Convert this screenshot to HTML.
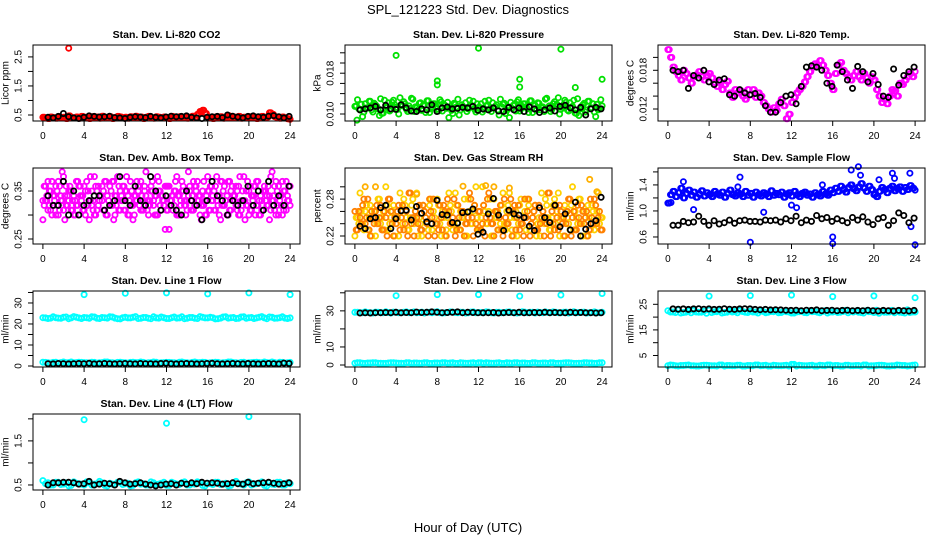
<!DOCTYPE html>
<html><head><meta charset="utf-8"><style>
html,body{margin:0;padding:0;background:#fff;}
svg{display:block;font-family:"Liberation Sans",Arial,sans-serif;}
</style></head><body>
<svg id="chart" width="936" height="540" viewBox="0 0 936 540" xmlns="http://www.w3.org/2000/svg">
<rect x="0" y="0" width="936" height="540" fill="#fff"/>
<text x="468" y="14" text-anchor="middle" font-size="13">SPL_121223  Std. Dev. Diagnostics</text>
<text x="468" y="532" text-anchor="middle" font-size="13">Hour of Day (UTC)</text>
<g id="plots"></g>
</svg>
<script>
// ---- data ----
const xTicks = [0,4,8,12,16,20,24];
const co2Main = [0.42,0.40,0.38,0.43,0.41,0.39,0.44,0.40,0.42,0.38,0.47,0.41,0.40,0.43,0.39,0.45,0.42,0.40,0.38,0.44,0.41,0.43,0.39,0.46,0.40,0.42,0.44,0.38,0.41,0.45,0.43,0.40,0.42,0.39,0.44,0.41,0.46,0.40,0.43,0.38,0.42,0.45,0.41,0.39,0.44,0.42,0.40,0.43,0.41,0.38,0.45,0.42,0.40,0.44,0.41,0.43,0.39,0.42,0.46,0.40,0.52,0.62,0.66,0.55,0.42,0.40,0.38,0.43,0.41,0.44,0.39,0.42,0.47,0.40,0.43,0.41,0.45,0.39,0.42,0.40,0.44,0.41,0.43,0.38,0.42,0.45,0.40,0.43,0.58,0.52,0.44,0.41,0.39,0.43,0.40,0.37,0.35];
const co2Black = [0.42,0.40,0.45,0.55,0.44,0.40,0.38,0.42,0.47,0.45,0.43,0.44,0.46,0.41,0.40,0.38,0.42,0.44,0.43,0.41,0.45,0.42,0.40,0.43,0.46,0.44,0.45,0.47,0.42,0.40,0.38,0.42,0.44,0.45,0.41,0.50,0.46,0.43,0.40,0.45,0.47,0.44,0.42,0.46,0.48,0.44,0.40,0.45];
const co2OutX = [2.5];
const co2OutY = [2.8];

const presMain = [0.0115,0.0128,0.0108,0.0095,0.0120,0.0112,0.0125,0.0104,0.0118,0.0110,0.0130,0.0102,0.0115,0.0122,0.0108,0.0127,0.0113,0.0100,0.0119,0.0124,0.0109,0.0116,0.0131,0.0105,0.0112,0.0121,0.0107,0.0118,0.0126,0.0103,0.0114,0.0120,0.0110,0.0128,0.0106,0.0117,0.0123,0.0112,0.0101,0.0119,0.0129,0.0108,0.0115,0.0122,0.0110,0.0118,0.0125,0.0104,0.0113,0.0120,0.0109,0.0116,0.0127,0.0105,0.0112,0.0118,0.0098,0.0114,0.0121,0.0107,0.0093,0.0111,0.0119,0.0124,0.0106,0.0115,0.0120,0.0110,0.0126,0.0103,0.0117,0.0122,0.0108,0.0114,0.0129,0.0111,0.0105,0.0120,0.0116,0.0132,0.0109,0.0118,0.0123,0.0106,0.0113,0.0127,0.0101,0.0097,0.0115,0.0121,0.0108,0.0125,0.0112,0.0104,0.0119,0.0110,0.0116];
const presBlack = [0.0108,0.0110,0.0112,0.0115,0.0108,0.0117,0.0110,0.0109,0.0118,0.0112,0.0106,0.0105,0.0110,0.0108,0.0118,0.0105,0.0112,0.0114,0.0110,0.0111,0.0113,0.0112,0.0115,0.0107,0.0110,0.0108,0.0112,0.0106,0.0105,0.0113,0.0108,0.0112,0.0105,0.0114,0.0110,0.0103,0.0108,0.0112,0.0106,0.0115,0.0117,0.0112,0.0108,0.0113,0.0098,0.0110,0.0113,0.0110];
const presOutX = [0.2,4,8,8,12,16,16,20,21.4,24];
const presOutY = [0.0088,0.0215,0.0157,0.0165,0.0229,0.0168,0.0153,0.0227,0.0152,0.0168];

const tempMain = [0.0212,0.0200,0.0185,0.0178,0.0172,0.0165,0.0180,0.0175,0.0168,0.0160,0.0170,0.0173,0.0178,0.0170,0.0165,0.0172,0.0175,0.0168,0.0160,0.0155,0.0162,0.0150,0.0158,0.0163,0.0145,0.0138,0.0150,0.0145,0.0148,0.0140,0.0135,0.0150,0.0142,0.0150,0.0138,0.0145,0.0140,0.0130,0.0125,0.0120,0.0115,0.0122,0.0118,0.0128,0.0135,0.0125,0.0105,0.0112,0.0130,0.0138,0.0145,0.0150,0.0155,0.0162,0.0170,0.0178,0.0185,0.0190,0.0188,0.0195,0.0188,0.0180,0.0172,0.0160,0.0150,0.0175,0.0188,0.0192,0.0180,0.0175,0.0170,0.0165,0.0172,0.0178,0.0170,0.0165,0.0175,0.0168,0.0160,0.0170,0.0165,0.0150,0.0140,0.0130,0.0135,0.0128,0.0140,0.0150,0.0148,0.0140,0.0160,0.0158,0.0165,0.0170,0.0175,0.0170,0.0178];
const tempBlack = [0.0180,0.0178,0.0180,0.0152,0.0172,0.0168,0.0180,0.0162,0.0158,0.0165,0.0167,0.0142,0.0140,0.0150,0.0145,0.0142,0.0144,0.0138,0.0125,0.0115,0.0115,0.0130,0.0140,0.0142,0.0128,0.0155,0.0185,0.0187,0.0185,0.0180,0.0160,0.0155,0.0188,0.0178,0.0165,0.0152,0.0186,0.0178,0.0162,0.0175,0.0158,0.0140,0.0138,0.0182,0.0157,0.0172,0.0178,0.0185];

const ambA = [0.29,0.33,0.37,0.31,0.34,0.36,0.30,0.33,0.38,0.32,0.35,0.31,0.34,0.37,0.30,0.33,0.36,0.32,0.29,0.35,0.38,0.31,0.34,0.33,0.37,0.30,0.36,0.32,0.34,0.38,0.31,0.33,0.35,0.30,0.37,0.32,0.34,0.36,0.31,0.33,0.39,0.30,0.35,0.32,0.34,0.37,0.31,0.33,0.36,0.27,0.34,0.32,0.38,0.30,0.35,0.33,0.31,0.36,0.34,0.32,0.37,0.30,0.35,0.33,0.38,0.31,0.34,0.36,0.32,0.29,0.35,0.33,0.37,0.31,0.34,0.36,0.30,0.33,0.38,0.32,0.35,0.31,0.34,0.37,0.30,0.33,0.36,0.32,0.34,0.39,0.31,0.35,0.33,0.37,0.32,0.34,0.36];
const ambB = [0.33,0.36,0.31,0.35,0.32,0.30,0.37,0.34,0.31,0.36,0.33,0.35,0.30,0.32,0.36,0.34,0.31,0.37,0.33,0.32,0.30,0.35,0.33,0.36,0.31,0.34,0.32,0.37,0.30,0.33,0.35,0.36,0.31,0.34,0.32,0.29,0.33,0.35,0.37,0.31,0.34,0.32,0.36,0.33,0.30,0.35,0.34,0.32,0.31,0.36,0.33,0.35,0.30,0.34,0.37,0.32,0.33,0.35,0.31,0.36,0.33,0.34,0.32,0.30,0.35,0.36,0.33,0.31,0.34,0.37,0.32,0.33,0.30,0.35,0.34,0.32,0.36,0.31,0.33,0.35,0.30,0.34,0.36,0.32,0.33,0.31,0.35,0.34,0.29,0.33,0.36,0.32,0.34,0.30,0.35,0.33,0.32];
const ambBlack = [0.34,0.32,0.32,0.37,0.30,0.35,0.30,0.32,0.33,0.34,0.34,0.31,0.32,0.33,0.38,0.33,0.32,0.36,0.33,0.32,0.38,0.35,0.31,0.34,0.32,0.31,0.30,0.35,0.33,0.32,0.29,0.33,0.37,0.34,0.33,0.30,0.33,0.32,0.33,0.36,0.32,0.35,0.31,0.37,0.32,0.34,0.32,0.36];

const rhA = [0.22,0.25,0.29,0.24,0.26,0.23,0.27,0.25,0.22,0.28,0.24,0.26,0.30,0.23,0.25,0.27,0.24,0.22,0.26,0.28,0.25,0.23,0.27,0.24,0.29,0.25,0.22,0.26,0.24,0.27,0.23,0.25,0.28,0.24,0.26,0.22,0.25,0.27,0.23,0.29,0.24,0.26,0.25,0.22,0.28,0.24,0.26,0.30,0.23,0.25,0.27,0.24,0.26,0.22,0.28,0.25,0.23,0.27,0.24,0.26,0.29,0.23,0.25,0.22,0.27,0.24,0.26,0.28,0.23,0.25,0.27,0.24,0.22,0.26,0.28,0.25,0.23,0.27,0.24,0.29,0.25,0.22,0.26,0.24,0.27,0.23,0.25,0.28,0.24,0.26,0.22,0.25,0.27,0.23,0.26,0.24,0.25];
const rhB = [0.26,0.23,0.25,0.27,0.24,0.28,0.22,0.25,0.26,0.24,0.27,0.23,0.25,0.28,0.26,0.22,0.24,0.27,0.25,0.23,0.26,0.29,0.24,0.22,0.25,0.27,0.23,0.26,0.24,0.28,0.25,0.22,0.24,0.27,0.23,0.26,0.28,0.24,0.25,0.22,0.27,0.23,0.26,0.24,0.25,0.28,0.22,0.24,0.26,0.23,0.27,0.25,0.29,0.24,0.22,0.26,0.25,0.23,0.28,0.24,0.26,0.22,0.27,0.25,0.23,0.24,0.28,0.26,0.22,0.25,0.27,0.23,0.24,0.26,0.25,0.29,0.22,0.24,0.27,0.23,0.26,0.25,0.24,0.28,0.22,0.26,0.23,0.25,0.27,0.24,0.26,0.23,0.25,0.28,0.24,0.26,0.23];
const rhOutX = [1,2,6,10.5,12.7,13.5,15,22.8,23.5];
const rhOutY = [0.300,0.300,0.288,0.301,0.302,0.300,0.298,0.312,0.292];
const rhBlack = [0.236,0.232,0.248,0.250,0.266,0.270,0.232,0.248,0.261,0.262,0.246,0.268,0.257,0.243,0.240,0.278,0.255,0.254,0.242,0.241,0.258,0.259,0.264,0.223,0.226,0.256,0.281,0.254,0.229,0.262,0.256,0.254,0.250,0.236,0.229,0.266,0.250,0.242,0.270,0.235,0.256,0.230,0.275,0.220,0.231,0.240,0.245,0.283];

const flowMain = [1.12,1.25,1.30,1.22,1.28,1.35,1.20,1.27,1.32,1.24,1.29,1.21,1.26,1.31,1.23,1.28,1.25,1.22,1.30,1.26,1.24,1.29,1.21,1.27,1.32,1.25,1.23,1.28,1.26,1.22,1.30,1.24,1.27,1.21,1.29,1.25,1.23,1.28,1.26,1.22,1.31,1.24,1.27,1.25,1.29,1.21,1.26,1.28,1.23,1.30,1.25,1.22,1.27,1.29,1.24,1.26,1.21,1.28,1.25,1.23,1.30,1.26,1.24,1.32,1.28,1.35,1.30,1.38,1.33,1.29,1.36,1.40,1.34,1.31,1.37,1.42,1.35,1.30,1.38,1.33,1.25,1.22,1.30,1.36,1.33,1.28,1.35,1.38,1.31,1.34,1.37,1.30,1.36,1.33,1.39,1.35,1.32];
const flowOutX = [0.3,1.5,2.5,7,8,12,12.5,15,16,16,17.8,18.5,18.7,20.5,21.8,22,23.5,23.6,24,6.8,9.3];
const flowOutY = [1.13,1.45,1.02,1.52,0.52,1.09,1.05,1.40,0.50,0.60,1.63,1.68,1.55,1.48,1.58,1.50,1.58,0.76,0.48,1.37,0.98];
const flowBlack = [0.78,0.78,0.84,0.82,0.83,0.92,0.84,0.78,0.85,0.80,0.82,0.86,0.81,0.85,0.86,0.84,0.84,0.83,0.86,0.85,0.86,0.83,0.88,0.85,0.92,0.82,0.86,0.84,0.93,0.88,0.90,0.84,0.88,0.85,0.82,0.90,0.86,0.91,0.83,0.79,0.88,0.90,0.78,0.85,0.97,0.93,0.82,0.89];

const l1Upper = [23,22.6,23.4,22.8,23.2,22.5,23.5,22.9,23.1,22.7,23.3,22.6,23,23.4,22.8,22.4,23.2,22.9,23.5,22.7,23.1,22.5,22.9,23.3,22.6,23,22.8,23.4,22.7,23.1,22.6,23.2,22.9,23,22.5,23.3,22.8,23.1,22.7,23.4,23,22.6,23.2,22.9,23.3,22.7,23,22.8,22.9];
const l1Lower = [1.8,1.5,1.7,1.4,1.9,1.6,1.5,1.8,1.6,1.4,1.7,1.5,1.9,1.6,1.4,1.8,1.5,1.7,1.6,1.9,1.4,1.6,1.8,1.5,1.7,1.6,1.4,1.9,1.5,1.7,1.6,1.8,1.4,1.6,1.7,1.5,1.9,1.6,1.4,1.8,1.5,1.7,1.6,1.9,1.5,1.6,1.8,1.4,1.7];
const l1Black = [1.1,1.0,1.2,1.1,1.0,1.1,1.2,1.1,1.3,1.0,1.1,1.2,1.1,1.0,1.1,1.2,1.1,1.0,1.2,1.1,1.1,1.0,1.2,1.3,1.1,1.0,1.1,1.2,1.1,1.0,1.1,1.2,1.3,1.1,1.0,1.1,1.2,1.1,1.0,1.2,1.1,1.0,1.1,1.2,1.1,1.0,1.4,1.2];
const l1OutX = [4,8,12,16,20,24];
const l1OutY = [34.0,34.6,34.8,34.3,34.8,34.0];

const l2Upper = [29.2,29.0,29.4,28.9,29.3,29.1,29.5,28.8,29.2,29.0,29.4,29.1,28.9,29.3,29.2,29.0,29.5,28.8,29.1,29.3,29.0,29.2,28.9,29.4,29.1,29.0,29.3,28.8,29.2,29.1,29.4,28.9,29.0,29.3,29.2,28.8,29.1,29.4,29.0,29.2,28.9,29.3,29.1,29.0,29.2,28.8,29.1,29.0,29.2];
const l2Lower = [1.0,1.2,0.9,1.1,1.3,1.0,0.9,1.2,1.1,1.0,1.3,0.9,1.1,1.0,1.2,0.9,1.1,1.3,1.0,1.2,0.9,1.1,1.0,1.2,1.3,0.9,1.1,1.0,1.2,0.9,1.1,1.3,1.0,1.1,0.9,1.2,1.0,1.1,1.3,0.9,1.0,1.2,1.1,0.9,1.0,1.2,1.1,1.0,1.3];
const l2Black = [28.8,28.9,28.8,29.0,29.0,29.1,29.0,29.2,28.9,29.1,29.0,29.3,29.1,29.2,29.4,29.2,29.0,29.1,29.2,29.4,29.0,29.2,29.1,29.0,28.9,29.0,29.1,28.8,29.0,29.1,29.0,29.2,28.9,29.0,29.1,29.0,29.2,29.0,29.1,29.0,28.9,29.2,29.0,29.1,28.9,29.0,28.8,28.9];
const l2OutX = [4,8,12,16,20,24];
const l2OutY = [38.4,39.0,39.0,38.2,38.8,39.6];

const l3Upper = [22.5,22.0,22.8,21.8,22.4,22.6,21.9,22.3,22.7,22.1,22.5,21.8,22.4,22.2,22.6,21.9,22.3,22.0,22.5,21.7,22.2,22.4,21.8,22.1,21.6,22.0,22.3,21.7,22.1,21.9,22.2,21.6,22.0,21.8,22.2,21.7,22.0,21.9,21.6,22.1,21.8,21.5,21.9,22.0,21.7,21.9,21.6,21.8,22.0];
const l3Lower = [1.0,1.2,0.9,1.1,1.3,1.0,0.9,1.2,1.1,1.0,1.3,0.9,1.1,1.0,1.2,0.9,1.1,1.3,1.0,1.2,0.9,1.1,1.0,1.2,1.5,0.9,1.1,1.0,1.2,0.9,1.1,1.3,1.0,1.1,0.9,1.2,1.0,1.1,1.3,0.9,1.0,1.2,1.1,0.9,1.0,1.2,1.1,1.0,1.3];
const l3Black = [23.2,23.1,23.2,23.0,23.2,23.3,23.1,23.2,23.0,23.1,23.3,23.1,23.0,23.2,23.3,23.2,23.0,22.9,23.0,22.8,22.9,22.8,22.7,22.6,22.7,22.5,22.7,22.6,22.8,22.5,22.6,22.7,22.5,22.6,22.7,22.5,22.6,22.5,22.7,22.5,22.4,22.6,22.5,22.4,22.6,22.5,22.4,22.6];
const l3OutX = [4,8,12,16,20,24];
const l3OutY = [28.2,28.4,28.6,28.0,28.3,27.6];

const l4Cyan = [0.60,0.55,0.50,0.56,0.52,0.48,0.57,0.53,0.50,0.55,0.52,0.58,0.49,0.54,0.51,0.56,0.53,0.48,0.55,0.52,0.50,0.57,0.51,0.54,0.49,0.56,0.52,0.55,0.50,0.53,0.57,0.49,0.54,0.51,0.56,0.52,0.48,0.55,0.53,0.50,0.57,0.52,0.54,0.49,0.55,0.51,0.56,0.50,0.53];
const l4Black = [0.50,0.55,0.55,0.56,0.56,0.55,0.52,0.53,0.58,0.50,0.52,0.54,0.53,0.50,0.58,0.55,0.52,0.53,0.55,0.52,0.50,0.48,0.50,0.52,0.53,0.50,0.54,0.52,0.55,0.53,0.56,0.54,0.55,0.54,0.52,0.53,0.55,0.53,0.52,0.56,0.53,0.54,0.55,0.56,0.54,0.52,0.53,0.55];
const l4OutX = [4,12,20];
const l4OutY = [1.98,1.90,2.05];

// ---- layout ----
const colLeft = [33,345,658];
const rowTop = [45,168,291,414];
const boxW = 267, boxH = 76;
const NS = 'http://www.w3.org/2000/svg';
const root = document.getElementById('plots');

function mk(tag, attrs, parent){
  const e = document.createElementNS(NS, tag);
  for (const k in attrs) e.setAttribute(k, attrs[k]);
  (parent||root).appendChild(e);
  return e;
}
function evenX(n, a, b){ const out=[]; for(let i=0;i<n;i++) out.push(a + (b-a)*i/(n-1)); return out; }

function panel(p){
  const L = colLeft[p.col], T = rowTop[p.row], R = L+boxW, B = T+boxH;
  const xs = v => L + 9.9 + v*(boxW-19.8)/24;
  const ys = v => B - (v - p.yLo)/(p.yHi - p.yLo)*boxH;
  const g = mk('g', {});
  
  
  const t = mk('text', {x:(L+R)/2, y:T-7, 'text-anchor':'middle', 'font-size':'10.5', 'font-weight':'bold'}, g);
  t.textContent = p.title;
  
  
  const yl = mk('text', {x:0, y:0, transform:`translate(${L-27},${(T+B)/2}) rotate(-90)`, 'text-anchor':'middle', 'dominant-baseline':'central', 'font-size':'10'}, g);
  yl.textContent = p.ylab;
  
  
  const pts = mk('g', {fill:'none', 'stroke-width':'1.8'}, g);
  
  
  function drawSet(xv, yv, color){
    yv.forEach((v,i) => {
      const c = mk('circle', {cx:xs(xv[i]).toFixed(1), cy:ys(v).toFixed(1), r:'2.6', stroke:color}, pts);
      
      
    });
  }
  p.series.forEach(s => {
    const n = s.y.length;
    if (s.x) { drawSet(s.x, s.y, s.color); return; }
    if (s.black) { drawSet(evenX(n, 0.5, 23.9), s.y, s.color); return; }
    const base = evenX(n, 0, 24);
    drawSet(base, s.y, s.color);
    if (s.dup) {
      // second pass between grid positions for density (reversed order for clouds)
      const step = 24/(n-1)/2;
      const xv = base.slice(0, n-1).map(x => x + step);
      const yv = s.dup === 'rev' ? s.y.slice().reverse().slice(0, n-1) : s.y.slice(0, n-1);
      drawSet(xv, yv, s.color);
    }
  });
  const bx = mk('rect', {x:L, y:T, width:boxW, height:boxH, fill:'none', stroke:'#000', 'stroke-width':'1'}, g);
  
  
  const xa = mk('g', {}, g);
  
  
  mk('line', {x1:xs(0), x2:xs(24), y1:B, y2:B, stroke:'#000'}, xa);
  xTicks.forEach(v => {
    mk('line', {x1:xs(v), x2:xs(v), y1:B, y2:B+5, stroke:'#000'}, xa);
    const tl = mk('text', {x:xs(v), y:B+18, 'text-anchor':'middle', 'font-size':'10'}, xa);
    tl.textContent = v;
    
    
  });
  const ya = mk('g', {}, g);
  
  
  mk('line', {x1:L, x2:L, y1:ys(p.ticks[0]), y2:ys(p.ticks[p.ticks.length-1]), stroke:'#000'}, ya);
  p.ticks.forEach(v => {
    mk('line', {x1:L-5, x2:L, y1:ys(v), y2:ys(v), stroke:'#000'}, ya);
  });
  p.labels.forEach((lab,i) => {
    const yy = ys(p.labelVals[i]);
    const tl = mk('text', {x:0, y:0, transform:`translate(${L-14},${yy}) rotate(-90)`, 'text-anchor':'middle', 'dominant-baseline':'central', 'font-size':'10'}, ya);
    tl.textContent = lab;
    
    
  });
}

const RED='#ff0000', GRN='#00e000', MAG='#ff00ff', BLU='#0000ff', CYN='#00ffff', BLK='#000000';

panel({name:'co2', col:0,row:0, title:'Stan. Dev. Li-820 CO2', ylab:'Licor ppm', yLo:0.293, yHi:2.91,
  ticks:[0.5,1,1.5,2,2.5], labelVals:[0.5,1.5,2.5], labels:['0.5','1.5','2.5'],
  series:[{y:co2Main,color:RED,dup:'same'},{x:co2OutX,y:co2OutY,color:RED},{y:co2Black,color:BLK,black:true}]});
panel({name:'pressure', col:1,row:0, title:'Stan. Dev. Li-820 Pressure', ylab:'kPa', yLo:0.00863, yHi:0.02353,
  ticks:[0.010,0.012,0.014,0.016,0.018,0.020,0.022], labelVals:[0.010,0.018], labels:['0.010','0.018'],
  series:[{y:presMain,color:GRN,dup:'rev'},{x:presOutX,y:presOutY,color:GRN},{y:presBlack,color:BLK,black:true}]});
panel({name:'li820-temp', col:2,row:0, title:'Stan. Dev. Li-820 Temp.', ylab:'degrees C', yLo:0.01014, yHi:0.02192,
  ticks:[0.012,0.014,0.016,0.018,0.020], labelVals:[0.012,0.018], labels:['0.012','0.018'],
  series:[{y:tempMain,color:MAG,dup:'same'},{y:tempBlack,color:BLK,black:true}]});
panel({name:'amb-box-temp', col:0,row:1, title:'Stan. Dev. Amb. Box Temp.', ylab:'degrees C', yLo:0.2396, yHi:0.398,
  ticks:[0.25,0.30,0.35], labelVals:[0.25,0.35], labels:['0.25','0.35'],
  series:[{y:ambA,color:MAG,dup:'rev'},{y:ambB,color:MAG,dup:'rev'},{y:ambBlack,color:BLK,black:true}]});
panel({name:'gas-stream-rh', col:1,row:1, title:'Stan. Dev. Gas Stream RH', ylab:'percent', yLo:0.207, yHi:0.3306,
  ticks:[0.22,0.24,0.26,0.28,0.30], labelVals:[0.22,0.28], labels:['0.22','0.28'],
  series:[{y:rhA,color:'#ffd000',dup:'rev'},{y:rhB,color:'#ff8000',dup:'rev'},{x:rhOutX,y:rhOutY,color:'#ffb000'},{y:rhBlack,color:BLK,black:true}]});
panel({name:'sample-flow', col:2,row:1, title:'Stan. Dev. Sample Flow', ylab:'ml/min', yLo:0.492, yHi:1.66,
  ticks:[0.6,0.8,1.0,1.2,1.4,1.6], labelVals:[0.6,1.0,1.4], labels:['0.6','1.0','1.4'],
  series:[{y:flowMain,color:BLU,dup:'same'},{x:flowOutX,y:flowOutY,color:BLU},{y:flowBlack,color:BLK,black:true}]});
panel({name:'line1-flow', col:0,row:2, title:'Stan. Dev. Line 1 Flow', ylab:'ml/min', yLo:-0.48, yHi:35.7,
  ticks:[0,5,10,15,20,25,30,35], labelVals:[0,10,20,30], labels:['0','10','20','30'],
  series:[{y:l1Upper,color:CYN,dup:'rev'},{y:l1Lower,color:CYN,dup:'rev'},{x:l1OutX,y:l1OutY,color:CYN},{y:l1Black,color:BLK,black:true}]});
panel({name:'line2-flow', col:1,row:2, title:'Stan. Dev. Line 2 Flow', ylab:'ml/min', yLo:-1.1, yHi:41,
  ticks:[0,10,20,30,40], labelVals:[0,10,30], labels:['0','10','30'],
  series:[{y:l2Upper,color:CYN,dup:'rev'},{y:l2Lower,color:CYN,dup:'rev'},{x:l2OutX,y:l2OutY,color:CYN},{y:l2Black,color:BLK,black:true}]});
panel({name:'line3-flow', col:2,row:2, title:'Stan. Dev. Line 3 Flow', ylab:'ml/min', yLo:0.5, yHi:30.2,
  ticks:[5,10,15,20,25], labelVals:[5,15,25], labels:['5','15','25'],
  series:[{y:l3Upper,color:CYN,dup:'rev'},{y:l3Lower,color:CYN,dup:'rev'},{x:l3OutX,y:l3OutY,color:CYN},{y:l3Black,color:BLK,black:true}]});
panel({name:'line4-flow', col:0,row:3, title:'Stan. Dev. Line 4 (LT) Flow', ylab:'ml/min', yLo:0.386, yHi:2.11,
  ticks:[0.5,1.0,1.5,2.0], labelVals:[0.5,1.5], labels:['0.5','1.5'],
  series:[{y:l4Cyan,color:CYN,dup:'rev'},{x:l4OutX,y:l4OutY,color:CYN},{y:l4Black,color:BLK,black:true}]});
</script>
</body></html>
